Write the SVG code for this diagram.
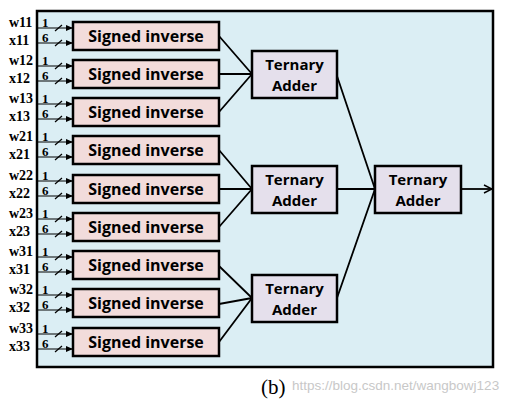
<svg xmlns="http://www.w3.org/2000/svg" width="515" height="404" viewBox="0 0 515 404">
<style>
.si{fill:#f2dcdb;stroke:#000;stroke-width:2.5}
.ta{fill:#e5e0ec;stroke:#000;stroke-width:2.5}
.st{font-family:"Open Sans","Liberation Sans",sans-serif;font-weight:bold;font-size:16px;fill:#000;text-anchor:middle}
.tt{font-family:"Open Sans","Liberation Sans",sans-serif;font-weight:bold;font-size:15px;fill:#000;text-anchor:middle}
.lb{font-family:"Liberation Serif",serif;font-weight:bold;font-size:14px;fill:#000}
.nb{font-family:"Liberation Serif",serif;font-weight:bold;font-size:13px;fill:#000}
.ln{stroke:#000;stroke-width:1.8;fill:none}
.in{stroke:#000;stroke-width:1.2;fill:none}
</style>
<defs>
<marker id="ah" markerWidth="8" markerHeight="8" refX="7" refY="4" orient="auto" markerUnits="userSpaceOnUse"><path d="M0,1 L7,4 L0,7 Z" fill="#000"/></marker>
<marker id="oa" markerWidth="10" markerHeight="10" refX="9" refY="5" orient="auto" markerUnits="userSpaceOnUse"><path d="M1,1 L9,5 L1,9" fill="none" stroke="#000" stroke-width="1.4"/></marker>
<g id="inputs">
<line class="in" x1="37" y1="6" x2="73" y2="6" marker-end="url(#ah)"/>
<line class="in" x1="37" y1="21" x2="73" y2="21" marker-end="url(#ah)"/>
<line class="in" x1="55" y1="9" x2="62" y2="3"/>
<line class="in" x1="55" y1="24" x2="62" y2="18"/>
<text class="nb" x="42" y="5">1</text>
<text class="nb" x="42" y="20">6</text>
</g>
</defs>
<rect x="37" y="11" width="456" height="356" fill="#dbeef4" stroke="#000" stroke-width="2.5"/>
<g id="connectors">
<path class="ln" d="M219,36 L252,74 M219,74 L252,74 M219,112 L252,74"/>
<path class="ln" d="M219,150 L252,189 M219,189 L252,189 M219,227 L252,189"/>
<path class="ln" d="M219,266 L252,298 M219,304 L252,298 M219,342 L252,298"/>
<path class="ln" d="M337,76 L375,189 M337,189 L375,189 M337,298 L375,189"/>
<line class="ln" x1="461" y1="189" x2="492" y2="189" marker-end="url(#oa)"/>
</g>
<g id="si11"><use href="#inputs" x="0" y="22"/><text class="lb" x="9" y="27">w11</text><text class="lb" x="9" y="45">x11</text><rect class="si" x="73" y="22" width="146" height="28"/><text class="st" x="146" y="41.5">Signed inverse</text></g>
<g id="si12"><use href="#inputs" x="0" y="60"/><text class="lb" x="9" y="65">w12</text><text class="lb" x="9" y="83">x12</text><rect class="si" x="73" y="60" width="146" height="28"/><text class="st" x="146" y="79.5">Signed inverse</text></g>
<g id="si13"><use href="#inputs" x="0" y="98"/><text class="lb" x="9" y="103">w13</text><text class="lb" x="9" y="121">x13</text><rect class="si" x="73" y="98" width="146" height="28"/><text class="st" x="146" y="117.5">Signed inverse</text></g>
<g id="si21"><use href="#inputs" x="0" y="136"/><text class="lb" x="9" y="141">w21</text><text class="lb" x="9" y="159">x21</text><rect class="si" x="73" y="136" width="146" height="28"/><text class="st" x="146" y="155.5">Signed inverse</text></g>
<g id="si22"><use href="#inputs" x="0" y="175"/><text class="lb" x="9" y="180">w22</text><text class="lb" x="9" y="198">x22</text><rect class="si" x="73" y="175" width="146" height="28"/><text class="st" x="146" y="194.5">Signed inverse</text></g>
<g id="si23"><use href="#inputs" x="0" y="213"/><text class="lb" x="9" y="218">w23</text><text class="lb" x="9" y="236">x23</text><rect class="si" x="73" y="213" width="146" height="28"/><text class="st" x="146" y="232.5">Signed inverse</text></g>
<g id="si31"><use href="#inputs" x="0" y="251"/><text class="lb" x="9" y="256">w31</text><text class="lb" x="9" y="274">x31</text><rect class="si" x="73" y="251" width="146" height="28"/><text class="st" x="146" y="270.5">Signed inverse</text></g>
<g id="si32"><use href="#inputs" x="0" y="289"/><text class="lb" x="9" y="294">w32</text><text class="lb" x="9" y="312">x32</text><rect class="si" x="73" y="289" width="146" height="28"/><text class="st" x="146" y="308.5">Signed inverse</text></g>
<g id="si33"><use href="#inputs" x="0" y="328"/><text class="lb" x="9" y="333">w33</text><text class="lb" x="9" y="351">x33</text><rect class="si" x="73" y="328" width="146" height="28"/><text class="st" x="146" y="347.5">Signed inverse</text></g>
<g id="ta1"><rect class="ta" x="252" y="51" width="85" height="47"/><text class="tt" x="294.5" y="70">Ternary</text><text class="tt" x="294.5" y="91">Adder</text></g>
<g id="ta2"><rect class="ta" x="252" y="166" width="85" height="47"/><text class="tt" x="294.5" y="185">Ternary</text><text class="tt" x="294.5" y="206">Adder</text></g>
<g id="ta3"><rect class="ta" x="252" y="275" width="85" height="47"/><text class="tt" x="294.5" y="294">Ternary</text><text class="tt" x="294.5" y="315">Adder</text></g>
<g id="ta4"><rect class="ta" x="375" y="166" width="86" height="47"/><text class="tt" x="418" y="185">Ternary</text><text class="tt" x="418" y="206">Adder</text></g>
<text x="261" y="394" font-family="'Liberation Serif',serif" font-size="21" fill="#000">(b)</text>
<text x="292" y="390" font-family="'Liberation Sans',sans-serif" font-size="13.5" fill="#c8c8c8">https://blog.csdn.net/wangbowj123</text>
</svg>
